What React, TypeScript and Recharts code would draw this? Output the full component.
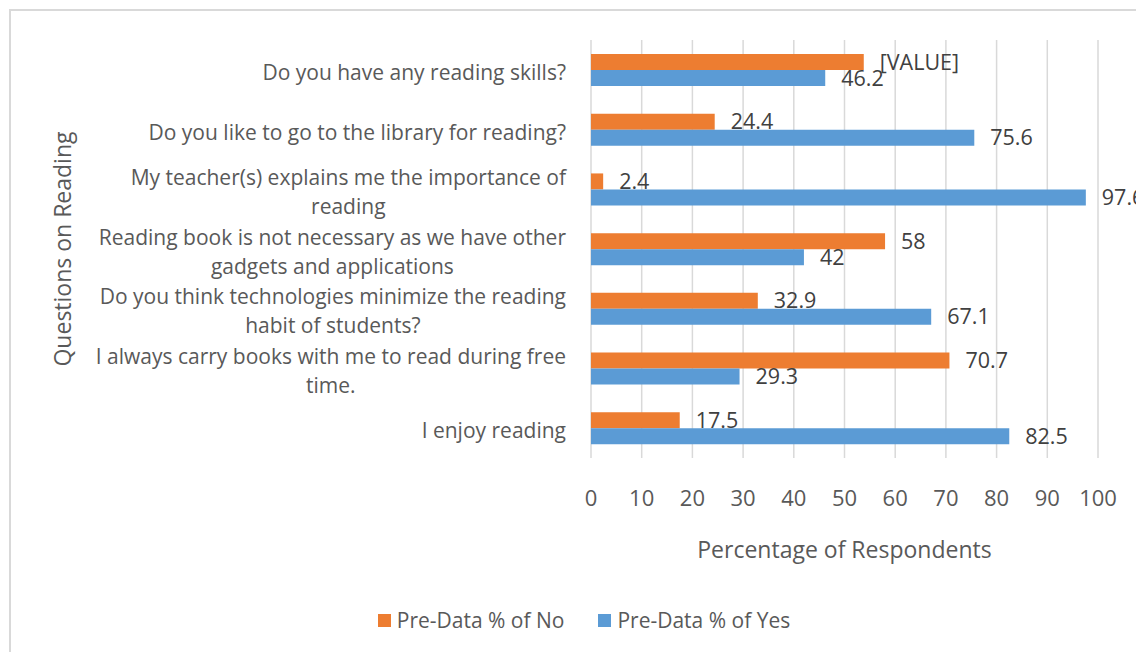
import { BarChart, Bar, XAxis, YAxis, CartesianGrid, LabelList, Label, Legend } from 'recharts'

const QUESTIONS = [
  'Do you have any reading skills?',
  'Do you like to go to the library for reading?',
  'My teacher(s) explains me the importance of reading',
  'Reading book is not necessary as we have other gadgets and applications',
  'Do you think technologies minimize the reading habit of students?',
  'I always carry books with me to read during free time.',
  'I enjoy reading',
]
const NO_VALUES = [53.8, 24.4, 2.4, 58, 32.9, 70.7, 17.5]
const YES_VALUES = [46.2, 75.6, 97.6, 42, 67.1, 29.3, 82.5]
// the first "No" label is shown as an unfilled placeholder in the original
const NO_LABELS = ['[VALUE]', '24.4', '2.4', '58', '32.9', '70.7', '17.5']
const X_TICKS = [0, 10, 20, 30, 40, 50, 60, 70, 80, 90, 100]

const NO_COLOR = '#ED7D31'
const YES_COLOR = '#5B9BD5'
const TEXT = '#595959'
const FONT = "'Open Sans', sans-serif"

const data = QUESTIONS.map((question, i) => ({
  question,
  no: NO_VALUES[i],
  yes: YES_VALUES[i],
  noLabel: NO_LABELS[i],
}))

let ctx: CanvasRenderingContext2D | null = null
const measure = (text: string, font: string) => {
  if (!ctx) ctx = document.createElement('canvas').getContext('2d')
  if (!ctx) return text.length * 10
  ctx.font = font
  return ctx.measureText(text).width
}

const wrap = (text: string, maxWidth: number, font: string) => {
  const words = text.split(' ')
  const lines: string[] = []
  let line = ''
  words.forEach(w => {
    const next = line ? line + ' ' + w : w
    if (line && measure(next, font) > maxWidth) {
      lines.push(line)
      line = w
    } else {
      line = next
    }
  })
  if (line) lines.push(line)
  return lines
}

const CategoryTick = ({ y, payload }: any) => {
  const font = `21px ${FONT}`
  const lines = wrap(payload.value, 490, font)
  const maxW = Math.max(...lines.map(l => measure(l, font)))
  const cx = 566 - maxW / 2
  const lineH = 29
  const startY = y + 2 - ((lines.length - 1) * lineH) / 2
  return (
    <text x={cx} y={startY} textAnchor="middle" fill={TEXT} fontSize={21} fontFamily={FONT} dominantBaseline="central">
      {lines.map((l, i) => (
        <tspan key={i} x={cx} y={startY + i * lineH}>{l}</tspan>
      ))}
    </text>
  )
}

const LegendContent = () => (
  <div style={{ height: 30, display: 'flex', justifyContent: 'center', alignItems: 'center', paddingLeft: 70, fontFamily: FONT, fontSize: 21, color: TEXT }}>
    {[{ name: 'Pre-Data % of No', color: NO_COLOR }, { name: 'Pre-Data % of Yes', color: YES_COLOR }].map((item, i) => (
      <div key={item.name} style={{ display: 'flex', alignItems: 'center', marginLeft: i ? 34 : 0 }}>
        <span style={{ width: 13, height: 13, background: item.color, display: 'inline-block', marginRight: 6 }} />
        <span>{item.name}</span>
      </div>
    ))}
  </div>
)

export default function App() {
  return (
    <div style={{ position: 'fixed', left: 0, top: 0, width: 1136, height: 652, background: '#fff', overflow: 'hidden', fontFamily: FONT }}>
      <div style={{ position: 'absolute', left: 9, top: 9, width: 1200, height: 700, border: '2px solid #d9d9d9' }} />
      <div style={{ position: 'absolute', left: 0, top: 0 }}>
        <BarChart
          width={1136}
          height={652}
          layout="vertical"
          data={data}
          margin={{ top: 40, right: 38, bottom: 17, left: 0 }}
          barSize={16}
          barGap={0}
        >
          <CartesianGrid horizontal={false} stroke="#d9d9d9" strokeWidth={1.5} />
          <XAxis
            type="number"
            domain={[0, 100]}
            ticks={X_TICKS}
            axisLine={false}
            tickLine={false}
            tickMargin={26}
            height={147}
            tick={{ fill: TEXT, fontSize: 22, fontFamily: FONT }}
          >
            <Label
              content={({ viewBox }: any) => (
                <text x={viewBox.x + viewBox.width / 2} y={viewBox.y + 91} textAnchor="middle" dominantBaseline="central" fill={TEXT} fontSize={23} fontFamily={FONT}>
                  Percentage of Respondents
                </text>
              )}
            />
          </XAxis>
          <YAxis
            type="category"
            dataKey="question"
            width={591}
            axisLine={false}
            tickLine={false}
            interval={0}
            tick={<CategoryTick />}
          >
            <Label
              content={({ viewBox }: any) => {
                const x = viewBox.x + 62
                const y = viewBox.y + viewBox.height / 2
                return (
                  <text x={x} y={y} transform={`rotate(-90 ${x} ${y})`} textAnchor="middle" dominantBaseline="central" fill={TEXT} fontSize={23} fontFamily={FONT}>
                    Questions on Reading
                  </text>
                )
              }}
            />
          </YAxis>
          <Legend verticalAlign="bottom" content={<LegendContent />} />
          <Bar dataKey="no" name="Pre-Data % of No" fill={NO_COLOR} isAnimationActive={false}>
            <LabelList dataKey="noLabel" position="right" offset={16} fill="#404040" fontSize={21.5} fontFamily={FONT} />
          </Bar>
          <Bar dataKey="yes" name="Pre-Data % of Yes" fill={YES_COLOR} isAnimationActive={false}>
            <LabelList dataKey="yes" position="right" offset={16} fill="#404040" fontSize={21.5} fontFamily={FONT} />
          </Bar>
        </BarChart>
      </div>
    </div>
  )
}
